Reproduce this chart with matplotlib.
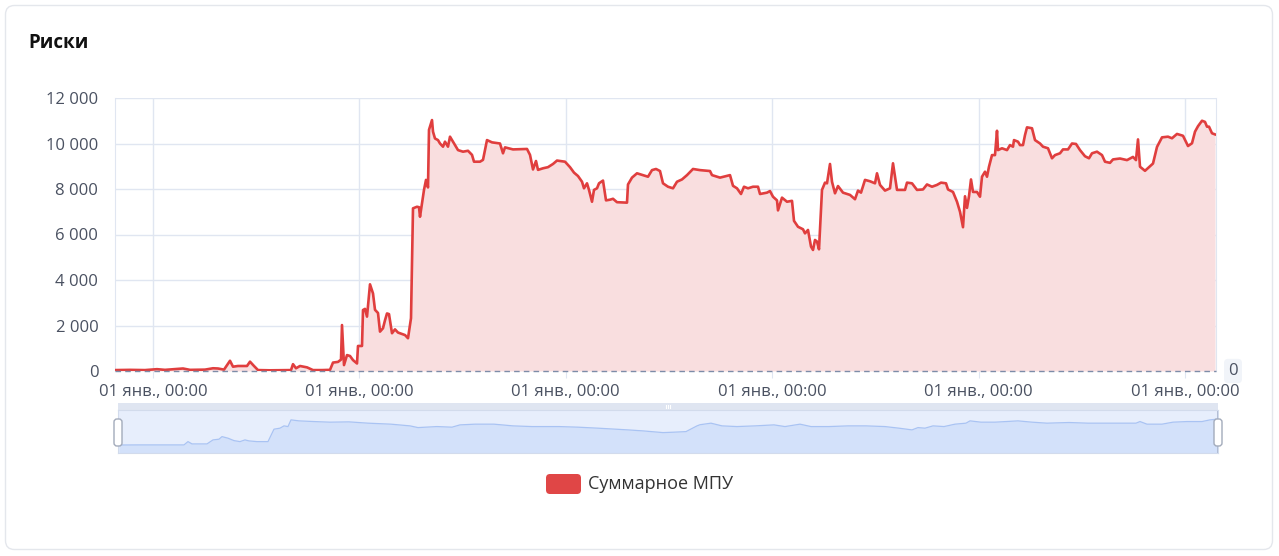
import matplotlib
matplotlib.use("Agg")
import matplotlib.pyplot as plt
from matplotlib.patches import FancyBboxPatch

# main series: time offset (same units as x axis) and value
t = [0, 15, 30, 42, 50, 68, 75, 90, 98, 103, 109, 115, 118, 123, 132, 135, 139, 143,
     155, 170, 176, 178, 181, 185, 192, 198, 207, 215, 218, 223, 226, 227, 229, 232,
     235, 238, 242, 243, 247, 248, 250, 252, 255, 258, 260, 263, 265, 268, 270, 272,
     274, 277, 280, 283, 290, 293, 296, 298, 302, 304, 305, 307, 309, 311, 313, 314,
     317, 318, 320, 323, 325, 328, 330, 333, 335, 338, 340, 343, 348, 353, 357, 359,
     365, 368, 372, 377, 385, 388, 390, 398, 412, 415, 418, 421, 423, 428, 433, 438,
     442, 450, 455, 459, 463, 467, 469, 472, 474, 477, 479, 482, 484, 488, 491, 495,
     498, 502, 512, 513, 517, 522, 528, 533, 537, 541, 545, 548, 553, 558, 562, 567,
     572, 578, 585, 595, 597, 605, 615, 618, 622, 626, 629, 633, 638, 643, 645, 652,
     655, 658, 662, 663, 667, 672, 677, 679, 683, 688, 690, 693, 696, 698, 700, 702,
     704, 707, 710, 712, 715, 717, 720, 723, 728, 735, 740, 743, 746, 750, 755, 760,
     762, 765, 770, 775, 778, 782, 790, 792, 797, 802, 808, 812, 817, 822, 826, 831,
     833, 838, 842, 845, 848, 850, 852, 854, 856, 858, 862, 865, 867, 870, 872, 874,
     877, 880, 882, 883, 887, 892, 895, 898, 899, 903, 905, 908, 910, 912, 917, 920,
     925, 928, 933, 937, 940, 945, 948, 953, 957, 961, 965, 970, 974, 977, 982, 987,
     990, 995, 998, 1005, 1012, 1018, 1021, 1023, 1025, 1030, 1035, 1038, 1042, 1047,
     1053, 1057, 1062, 1068, 1073, 1077, 1080, 1083, 1087, 1090, 1092, 1094, 1097, 1100]
mpu = [40, 50, 40, 80, 50, 110, 50, 60, 120, 110, 60, 450, 190, 220, 220, 410, 220, 40,
       30, 40, 40, 300, 120, 220, 160, 40, 40, 50, 370, 400, 500, 2020, 260, 700,
       660, 480, 330, 1100, 1100, 2680, 2730, 2390, 3810, 3410, 2690, 2550, 1730, 1880, 2230, 2530,
       2500, 1660, 1830, 1690, 1580, 1440, 2320, 7150, 7220, 7200, 6780, 7370, 7960, 8400, 8070, 10600,
       11030, 10520, 10220, 10150, 10000, 9860, 10080, 9860, 10300, 10080, 9930, 9710, 9640, 9680, 9500, 9200,
       9200, 9280, 10150, 10050, 10000, 9570, 9830, 9740, 9760, 9500, 8860, 9230, 8840, 8910, 8960, 9100,
       9250, 9200, 8960, 8720, 8570, 8320, 8030, 8250, 7960, 7440, 7960, 8030, 8250, 8370, 7500, 7530,
       7570, 7420, 7400, 8200, 8500, 8690, 8610, 8540, 8830, 8880, 8790, 8250, 8100, 8030, 8320, 8420,
       8610, 8880, 8830, 8790, 8610, 8500, 8610, 8140, 8030, 7780, 8100, 8030, 8100, 8100, 7780, 7840,
       7910, 7660, 7500, 7060, 7620, 7440, 7480, 6600, 6340, 6230, 6050, 6200, 5470, 5320, 5760, 5690,
       5350, 7960, 8280, 8250, 9100, 8320, 7810, 8130, 7840, 7740, 7550, 7930, 7840, 8400, 8340, 8250,
       8690, 8180, 7930, 8030, 9130, 7960, 7960, 8280, 8250, 7960, 7980, 8200, 8100, 8180, 8280, 8250,
       7980, 7870, 7440, 7000, 6320, 7680, 7170, 7680, 8420, 7870, 7870, 7660, 8540, 8760, 8540, 8980,
       9490, 9490, 10560, 9710, 9790, 9710, 9930, 9860, 10150, 10080, 9930, 9930, 10370, 10710, 10670, 10150,
       10000, 9860, 9790, 9350, 9490, 9570, 9740, 9740, 10000, 9980, 9710, 9440, 9350, 9570, 9640, 9490,
       9200, 9150, 9300, 9340, 9270, 9410, 9270, 10180, 8980, 8800, 9000, 9120, 9850, 10270,
       10300, 10230, 10420, 10340, 9890, 10010, 10520, 10760, 11000, 10950, 10740, 10740, 10450, 10400]

# data zoom preview (drawn by sample index, so read separately)
prev_x = [1, 20, 66, 70, 74, 89, 95, 101, 104, 110, 116, 122, 127, 131, 139, 150, 156, 162,
          166, 170, 173, 181, 196, 212, 231, 250, 273, 292, 300, 319, 334, 342, 357, 376,
          395, 414, 441, 460, 480, 510, 525, 545, 556, 568, 579, 582, 593, 604, 619, 637,
          656, 667, 682, 693, 711, 730, 748, 767, 781, 794, 800, 807, 815, 826, 837, 848,
          852, 863, 877, 900, 914, 929, 951, 970, 988, 1018, 1022, 1029, 1044, 1055, 1069,
          1084, 1092, 1099]
prev_v = [0, 40, 40, 1390, 450, 450, 2090, 2380, 3440, 2790, 1800, 1390, 2090, 1680, 1390, 1390, 6480, 6890,
          7830, 7550, 10290, 9880, 9600, 9350, 9470, 8940, 8530, 7830, 7130, 7550, 7300, 8240, 8530, 8530,
          7830, 7550, 7550, 7300, 6890, 6190, 5780, 5080, 5250, 5490, 7830, 8300, 8940, 7830, 7550, 7830,
          8240, 7550, 8530, 7550, 7550, 7830, 7830, 7550, 6890, 6190, 7130, 6890, 7830, 7550, 8530, 8940,
          9880, 9350, 9350, 9880, 9350, 8940, 9210, 8940, 8940, 8940, 9600, 8530, 8530, 9350, 9600,
          9600, 10290, 10580]

y_ticks = [0, 2000, 4000, 6000, 8000, 10000, 12000]
x_ticks = [38, 244.4, 450.8, 657.2, 863.6, 1070]
x_label = "01 янв., 00:00"
series_name = "Суммарное МПУ"

W, H = 1279, 556
plt.rcParams['font.family'] = ['Open Sans', 'DejaVu Sans']
fig = plt.figure(figsize=(W / 100, H / 100), dpi=100)


def px_axes(x0, y0, w, h, **kw):
    return fig.add_axes([x0 / W, 1 - (y0 + h) / H, w / W, h / H], **kw)


def px_layer(z):
    a = px_axes(0, 0, W, H, zorder=z)
    a.set_xlim(0, W)
    a.set_ylim(H, 0)
    a.axis("off")
    return a


text_col = "#4a5161"
grid_col = "#e0e6f1"

# card background, title, legend
bg = px_layer(0)
bg.add_patch(FancyBboxPatch((5.5, 5.5), 1267, 544, boxstyle="round,pad=0,rounding_size=9",
                            fc="white", ec="#e4e7ec", lw=1))
bg.text(28, 43, "Риски", fontsize=13.5, fontweight="bold", color="#111111", va="center")
bg.add_patch(FancyBboxPatch((546, 474), 35, 20, boxstyle="round,pad=0,rounding_size=4",
                            fc="#e04646", ec="none"))
bg.text(588, 484, series_name, fontsize=13, color="#333333", va="center")

# main chart
ax = px_axes(115, 98, 1101, 273, zorder=2)
ax.set_facecolor("none")
ax.fill_between(t, mpu, 0, color="#f9dedf", lw=0, zorder=1)
ax.plot(t, mpu, color="#e03e3e", lw=1.9, zorder=3, solid_joinstyle="round")
ax.axhline(0, color="#7d8ca8", lw=1, ls=(0, (4, 3)), zorder=4, clip_on=False)
ax.set_xlim(0, 1101)
ax.set_ylim(0, 12000)
ax.set_yticks(y_ticks)
ax.set_yticklabels([f"{v:,}".replace(",", " ") for v in y_ticks])
ax.set_xticks(x_ticks)
ax.set_xticklabels([x_label] * len(x_ticks))
ax.grid(True, color=grid_col, lw=1, zorder=0)
ax.set_axisbelow(True)
for s in ax.spines.values():
    s.set_visible(False)
for s in ("left", "right"):
    ax.spines[s].set_visible(True)
    ax.spines[s].set_color(grid_col)
ax.tick_params(axis="y", length=0, pad=12, labelsize=12, labelcolor=text_col)
ax.tick_params(axis="x", length=5, color=grid_col, pad=4, labelsize=12, labelcolor=text_col)
ax.text(1.0 + 17 / 1101, 0, "0", transform=ax.get_yaxis_transform(), fontsize=12,
        color=text_col, ha="center", va="center",
        bbox=dict(boxstyle="round,pad=0.25", fc="#f1f4f9", ec="none"))

# data zoom slider: move bar
mv = px_axes(118, 403, 1100, 7, zorder=2)
mv.set_facecolor("#dfe5f1")
mv.set_xticks([])
mv.set_yticks([])
for s in mv.spines.values():
    s.set_visible(False)
mv.set_xlim(0, 1100)
mv.set_ylim(0, 1)
for dx in (-2, 0, 2):
    mv.plot([550 + dx, 550 + dx], [0.25, 0.75], color="white", lw=0.8)

# data zoom slider: shadow of the series
sl = px_axes(118, 410, 1100, 43, zorder=2)
sl.set_facecolor("#e7eefc")
lo, hi = min(mpu), max(mpu)
pad = (hi - lo) * 0.3
sl.set_xlim(0, 1100)
sl.set_ylim(lo - pad, hi + pad)
sl.fill_between(prev_x, prev_v, lo - pad, color="#d3e1fa", lw=0)
sl.plot(prev_x, prev_v, color="#a9c3f3", lw=0.9)
sl.set_xticks([])
sl.set_yticks([])
for s in sl.spines.values():
    s.set_color("#d2dbec")
    s.set_linewidth(0.8)
sl.axvline(0, color="#a8b4cc", lw=1.2)
sl.axvline(1100, color="#a8b4cc", lw=1.2)

# slider handles on top
top = px_layer(5)
for hx in (118, 1218):
    top.add_patch(FancyBboxPatch((hx - 4, 419), 8, 27, boxstyle="round,pad=0,rounding_size=3",
                                 fc="white", ec="#a3abbb", lw=1))

fig.savefig("out.png", dpi=100, facecolor="white")
